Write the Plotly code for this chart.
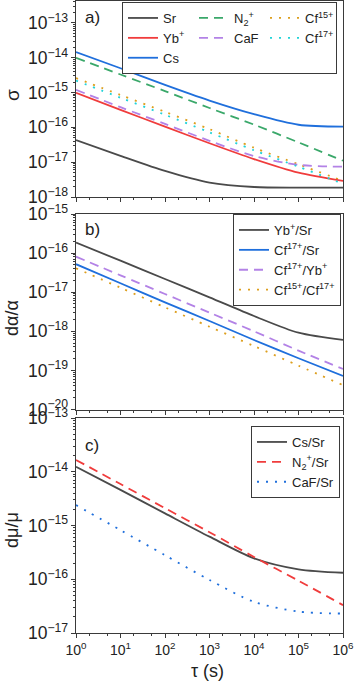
import plotly.graph_objects as go

# ---------------- data ----------------
tau = [1e0, 1e1, 1e2, 1e3, 1e4, 1e5, 1e6]
tau_ticktext = ["10<sup>0</sup>", "10<sup>1</sup>", "10<sup>2</sup>", "10<sup>3</sup>",
                "10<sup>4</sup>", "10<sup>5</sup>", "10<sup>6</sup>"]

# panel a) sigma
sig_Sr    = [4.3e-17, 1.52e-17, 5.6e-18, 2.59e-18, 1.94e-18, 1.86e-18, 1.86e-18]
sig_Yb    = [9.8e-16, 3.2e-16, 1.05e-16, 3.5e-17, 1.23e-17, 5.0e-18, 2.9e-18]
sig_Cs    = [1.46e-14, 5.0e-15, 1.66e-15, 5.9e-16, 2.4e-16, 1.19e-16, 1.05e-16]
sig_N2    = [1.0e-14, 3.3e-15, 1.1e-15, 3.6e-16, 1.2e-16, 3.7e-17, 1.1e-17]
sig_CaF   = [1.2e-15, 3.8e-16, 1.26e-16, 4.1e-17, 1.5e-17, 8.4e-18, 7.4e-18]
sig_Cf15  = [2.6e-15, 8.5e-16, 2.8e-16, 8.9e-17, 2.6e-17, 8.7e-18, 2.9e-18]
sig_Cf17  = [2.2e-15, 7.1e-16, 2.3e-16, 7.2e-17, 2.2e-17, 7.4e-18, 2.4e-18]

# panel b) d alpha / alpha
da_YbSr     = [1.85e-16, 6.4e-17, 2.18e-17, 7.4e-18, 2.46e-18, 9.2e-19, 6.0e-19]
da_Cf17Sr   = [5.2e-17, 1.69e-17, 5.5e-18, 1.83e-18, 6.0e-19, 2.04e-19, 7.2e-20]
da_Cf17Yb   = [8.1e-17, 2.7e-17, 9.0e-18, 3.0e-18, 1.0e-18, 3.2e-19, 1.09e-19]
da_Cf15Cf17 = [4.1e-17, 1.3e-17, 4.1e-18, 1.31e-18, 4.2e-19, 1.32e-19, 4.2e-20]

# panel c) d mu / mu
dm_CsSr  = [1.24e-14, 4.6e-15, 1.68e-15, 6.2e-16, 2.45e-16, 1.53e-16, 1.32e-16]
dm_N2Sr  = [1.66e-14, 5.9e-15, 2.1e-15, 7.5e-16, 2.6e-16, 9.4e-17, 3.3e-17]
dm_CaFSr = [2.4e-15, 8.2e-16, 2.8e-16, 9.7e-17, 3.8e-17, 2.5e-17, 2.3e-17]

# ---------------- styling ----------------
FONT = "Liberation Sans, Arial, sans-serif"
GRAY = "#4a4a4a"
RED = "#f03c3c"
BLUE = "#1f6fdc"
GREEN = "#3aa86a"
PURPLE = "#b382e6"
ORANGE = "#dd9f1e"
CYAN = "#22d3d8"
DASH = "9px,6px"
DOT = "2px,7px"
LW = 1.8

fig = go.Figure()

def add(x, y, name, color, dash, xa, ya, legend):
    fig.add_trace(go.Scatter(
        x=x, y=y, name=name, mode="lines",
        line=dict(color=color, width=LW, dash=dash, shape="spline", smoothing=0.8),
        xaxis=xa, yaxis=ya, legend=legend))

# panel a (row-major legend order: Sr, N2+, Cf15+ / Yb+, CaF, Cf17+ / Cs)
add(tau, sig_Sr, "Sr", GRAY, "solid", "x", "y", "legend")
add(tau, sig_N2, "N<sub>2</sub><sup>+</sup>", GREEN, DASH, "x", "y", "legend")
add(tau, sig_Cf15, "Cf<sup>15+</sup>", ORANGE, DOT, "x", "y", "legend")
add(tau, sig_Yb, "Yb<sup>+</sup>", RED, "solid", "x", "y", "legend")
add(tau, sig_CaF, "CaF", PURPLE, DASH, "x", "y", "legend")
add(tau, sig_Cf17, "Cf<sup>17+</sup>", CYAN, DOT, "x", "y", "legend")
add(tau, sig_Cs, "Cs", BLUE, "solid", "x", "y", "legend")

# panel b
add(tau, da_YbSr, "Yb<sup>+</sup>/Sr", GRAY, "solid", "x2", "y2", "legend2")
add(tau, da_Cf17Sr, "Cf<sup>17+</sup>/Sr", BLUE, "solid", "x2", "y2", "legend2")
add(tau, da_Cf17Yb, "Cf<sup>17+</sup>/Yb<sup>+</sup>", PURPLE, DASH, "x2", "y2", "legend2")
add(tau, da_Cf15Cf17, "Cf<sup>15+</sup>/Cf<sup>17+</sup>", ORANGE, DOT, "x2", "y2", "legend2")

# panel c
add(tau, dm_CsSr, "Cs/Sr", GRAY, "solid", "x3", "y3", "legend3")
add(tau, dm_N2Sr, "N<sub>2</sub><sup>+</sup>/Sr", RED, DASH, "x3", "y3", "legend3")
add(tau, dm_CaFSr, "CaF/Sr", BLUE, DOT, "x3", "y3", "legend3")

# ---------------- layout ----------------
W, H = 356, 685
ML, MR, MT, MB = 76, 13, 1, 52
PH = H - MT - MB  # plot height in px

def fy(px):
    """pixel row -> paper fraction"""
    return (H - MB - px) / PH

def fx(px):
    return (px - ML) / (W - ML - MR)

AXC = "#3a3a3a"
common_axis = dict(
    type="log", showline=True, linecolor=AXC, linewidth=1, mirror=True,
    ticks="outside", ticklen=4, tickcolor=AXC, showgrid=False, zeroline=False,
    exponentformat="power", showexponent="all", ticklabeloverflow="allow",
    tickfont=dict(family=FONT, size=14, color="#222"),
    minor=dict(ticks="outside", ticklen=2, tickcolor=AXC, showgrid=False),
)

xcommon = dict(common_axis, range=[0, 6], tickvals=tau, ticktext=tau_ticktext, domain=[0, 1])
fig.update_layout(
    xaxis=dict(xcommon, anchor="y", showticklabels=False),
    xaxis2=dict(xcommon, anchor="y2", showticklabels=False),
    xaxis3=dict(xcommon, anchor="y3", showticklabels=True),
    yaxis=dict(common_axis, anchor="x", range=[-18, -12.37], dtick=1, domain=[fy(197), 1]),
    yaxis2=dict(common_axis, anchor="x2", range=[-20, -15], dtick=1, domain=[fy(409.5), fy(214)]),
    yaxis3=dict(common_axis, anchor="x3", range=[-17, -13], dtick=1, domain=[0, fy(418)]),
)

leg_common = dict(
    bgcolor="white", bordercolor=AXC, borderwidth=1,
    font=dict(family=FONT, size=13, color="#222"), yanchor="top",
)
fig.update_layout(
    legend=dict(leg_common, orientation="h", entrywidth=26, x=fx(122), xanchor="left", y=fy(2)),
    legend2=dict(leg_common, x=fx(341), xanchor="right", y=fy(214)),
    legend3=dict(leg_common, x=fx(340), xanchor="right", y=fy(426)),
)

ann = []
def label(text, xpx, ypx, size=17, angle=0):
    ann.append(dict(text=text, x=fx(xpx), y=fy(ypx), xref="paper", yref="paper",
                    showarrow=False, textangle=angle,
                    font=dict(family=FONT, size=size, color="#222"),
                    xanchor="center", yanchor="middle"))

label("a)", 92, 17)
label("b)", 92, 229)
label("c)", 92, 445)
label("σ", 12, 95, size=19, angle=-90)
label("dα/α", 12, 318, size=18, angle=-90)
label("dμ/μ", 12, 530, size=18, angle=-90)
label("τ (s)", 207, 671, size=18)

fig.update_layout(
    annotations=ann,
    width=W, height=H,
    margin=dict(l=ML, r=MR, t=MT, b=MB, autoexpand=False),
    paper_bgcolor="white", plot_bgcolor="white",
    showlegend=True,
)

fig.write_html("out.html",
               config={"displayModeBar": False},
               post_script="document.body.style.margin='0';document.body.style.overflow='hidden';")
